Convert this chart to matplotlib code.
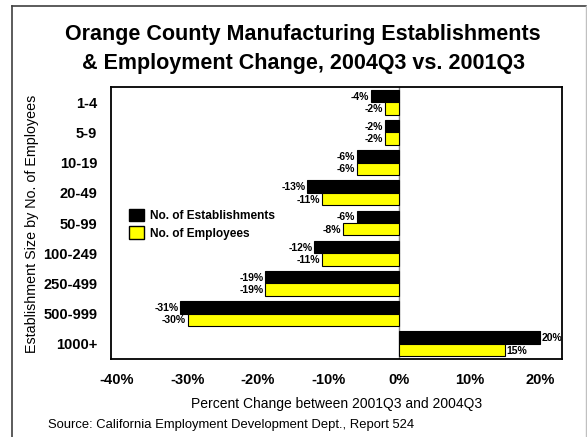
import matplotlib
matplotlib.use("Agg")
import matplotlib.pyplot as plt
from matplotlib.lines import Line2D
from matplotlib.patches import Patch

plt.rcParams['font.family'] = ['Liberation Sans', 'DejaVu Sans']

categories = ["1-4", "5-9", "10-19", "20-49", "50-99", "100-249", "250-499", "500-999", "1000+"]
establishments = [-4, -2, -6, -13, -6, -12, -19, -31, 20]
employees = [-2, -2, -6, -11, -8, -11, -19, -30, 15]
x_ticks = [-40, -30, -20, -10, 0, 10, 20]

W, H = 587, 437
fig = plt.figure(figsize=(W / 100, H / 100), dpi=100)
fig.patch.set_facecolor('white')

# plot area in pixel terms
left, right, top, bottom = 111, 562, 87, 359
ax = fig.add_axes([left / W, 1 - bottom / H, (right - left) / W, (bottom - top) / H])

n = len(categories)
ypos = list(range(n))
h = 0.41
ax.barh([y - h / 2 for y in ypos], establishments, height=h, color='black',
        edgecolor='black', linewidth=0.8, zorder=3)
ax.barh([y + h / 2 for y in ypos], employees, height=h, color='#FFFF00',
        edgecolor='black', linewidth=0.8, zorder=3)

for y, v in zip(ypos, establishments):
    ax.text(v + (0.25 if v > 0 else -0.25), y - h / 2 + 0.02, f"{v}%",
            ha='left' if v > 0 else 'right', va='center', fontsize=7.5,
            fontweight='bold', zorder=4)
for y, v in zip(ypos, employees):
    ax.text(v + (0.25 if v > 0 else -0.25), y + h / 2 + 0.02, f"{v}%",
            ha='left' if v > 0 else 'right', va='center', fontsize=7.5,
            fontweight='bold', zorder=4)

ax.set_xlim(-40.85, 23.1)
ax.set_ylim(n - 0.5, -0.5)
ax.axvline(0, color='#808080', linewidth=1.0, zorder=2)

ax.set_xticks(x_ticks)
ax.set_xticklabels([f"{t}%" for t in x_ticks], fontsize=10.5, fontweight='bold')
ax.set_yticks(ypos)
ax.set_yticklabels(categories, fontsize=10.5, fontweight='bold')
ax.tick_params(axis='both', length=0)
ax.tick_params(axis='x', pad=10)
ax.tick_params(axis='y', pad=10)
for s in ax.spines.values():
    s.set_linewidth(1.3)
    s.set_color('black')

ax.set_xlabel("Percent Change between 2001Q3 and 2004Q3", fontsize=10, labelpad=7)
fig.text(32 / W, 1 - 224 / H, "Establishment Size by No. of Employees", rotation=90,
         ha='center', va='center', fontsize=10.3)

fig.text(303 / W, 1 - 49 / H,
         "Orange County Manufacturing Establishments\n& Employment Change, 2004Q3 vs. 2001Q3",
         ha='center', va='center', fontsize=15.5, fontweight='bold', linespacing=1.5)

fig.text(48 / W, 1 - 425 / H,
         "Source: California Employment Development Dept., Report 524",
         ha='left', va='center', fontsize=9.4)

handles = [Patch(facecolor='black', edgecolor='black'),
           Patch(facecolor='#FFFF00', edgecolor='black')]
ax.legend(handles, ["No. of Establishments", "No. of Employees"],
          loc='upper left', bbox_to_anchor=((124 - left) / (right - left), (top - 204) / (bottom - top) + 1),
          frameon=False, prop={'weight': 'bold', 'size': 8.6},
          handlelength=1.25, handleheight=1.25, handletextpad=0.5, labelspacing=0.35,
          borderaxespad=0)

# outer frame
fig.add_artist(Line2D([11.5 / W, 11.5 / W], [0, 1 - 5.5 / H], color='#404040', lw=1.2))
fig.add_artist(Line2D([11.5 / W, 586 / W], [1 - 5.5 / H, 1 - 5.5 / H], color='#404040', lw=1.2))
fig.add_artist(Line2D([585.5 / W, 585.5 / W], [0, 1 - 5.5 / H], color='#C0C0C0', lw=1.0))

fig.savefig("out.png", dpi=100)
